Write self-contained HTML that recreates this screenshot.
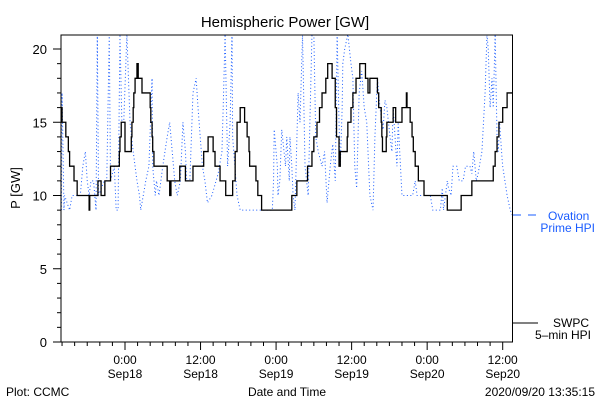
<!DOCTYPE html>
<html><head><meta charset="utf-8"><style>
html,body{margin:0;padding:0;background:#fff;width:600px;height:400px;overflow:hidden}
svg{display:block;font-family:"Liberation Sans","DejaVu Sans",sans-serif}
</style></head><body>
<svg id="chart" width="600" height="400" viewBox="0 0 600 400">
<rect width="600" height="400" fill="#fff"/>
<defs><clipPath id="pc"><rect x="61" y="35" width="451.5" height="307"/></clipPath></defs>
<text x="285" y="27" font-size="15" text-anchor="middle" fill="#000">Hemispheric Power [GW]</text>
<text x="20" y="188" font-size="13" text-anchor="middle" transform="rotate(-90 20 188)" fill="#000">P [GW]</text>
<g id="yaxis"></g>
<g id="xaxis"></g>
<g clip-path="url(#pc)">
<path id="blue" fill="none" stroke="#1a5cff" stroke-width="1" stroke-dasharray="1 2.5"/>
<path id="black" fill="none" stroke="#000" stroke-width="1.3"/>
</g>
<rect x="61" y="35" width="451.5" height="307" fill="none" stroke="#000" stroke-width="1"/>
<g>
<line x1="513" y1="215" x2="540" y2="215" stroke="#1a5cff" stroke-width="1" stroke-dasharray="8 7"/>
<text x="548" y="220" font-size="12" fill="#1a5cff">Ovation</text>
<text x="595" y="232" font-size="12" fill="#1a5cff" text-anchor="end">Prime HPI</text>
</g>
<g>
<line x1="513" y1="323" x2="538" y2="323" stroke="#000" stroke-width="1"/>
<text x="589" y="327" font-size="12" text-anchor="end" fill="#000">SWPC</text>
<text x="591" y="339" font-size="12" text-anchor="end" fill="#000">5–min HPI</text>
</g>
<text x="287" y="396" font-size="12" text-anchor="middle" fill="#000">Date and Time</text>
<text x="6" y="396" font-size="12" fill="#000">Plot: CCMC</text>
<text x="595" y="396" font-size="12" text-anchor="end" fill="#000">2020/09/20 13:35:15</text>
</svg>
<script>
// hours relative to 2020-09-18 00:00 UT
const swpcTimes=[-10.1,-10.0,-9.4,-9.0,-8.8,-8.1,-7.6,-5.7,-5.6,-4.3,-3.8,-3.2,-2.3,-0.9,-0.8,-0.6,0.0,1.0,1.1,1.3,1.4,1.6,1.9,2.1,2.7,4.0,4.1,4.3,4.4,4.6,6.7,7.1,7.3,8.7,9.6,10.8,12.5,13.2,14.0,14.3,15.1,16.0,17.1,17.5,17.8,18.3,19.0,19.4,19.7,19.8,20.8,21.1,21.7,26.5,27.3,29.0,29.7,30.0,30.5,30.9,31.3,31.9,32.2,32.9,33.4,33.6,34.0,34.2,35.3,35.4,35.9,36.2,36.7,37.3,38.2,38.6,38.9,40.1,40.3,40.7,40.8,40.9,41.5,41.6,42.6,43.0,44.0,44.7,44.8,45.3,45.6,45.8,46.1,46.6,47.5,51.2,53.4,55.1,58.5,58.8,59.1,59.4,60.0,60.7];
const swpcValues=[16,15,14,13,12,11,10,9,10,11,10,11,12,13,14,15,13,14,15,16,17,18,19,18,17,16,15,14,13,12,11,10,11,12,11,12,13,14,13,12,11,10,11,13,15,16,15,14,13,12,11,10,9,10,11,12,13,14,15,16,17,18,19,18,16,14,12,13,14,15,16,17,18,19,18,17,18,17,16,15,14,13,14,15,16,15,16,17,16,15,14,13,12,11,10,9,10,11,12,13,14,15,16,17];
const swpcEnd=61.6;
const ovationTimes=[-10.1,-10.0,-9.8,-9.7,-9.6,-9.2,-8.8,-8.4,-7.1,-6.7,-6.3,-6.0,-5.7,-5.4,-5.0,-4.6,-4.4,-4.2,-3.3,-2.9,-2.5,-2.3,-1.7,-1.4,-1.1,-0.8,-0.5,-0.2,0.3,0.8,1.3,1.6,1.9,2.3,2.5,2.9,3.3,3.8,4.3,4.4,4.8,5.0,5.4,5.7,6.0,6.7,7.1,7.5,7.9,8.3,8.8,9.2,9.6,9.8,10.3,10.8,11.3,11.6,12.3,12.7,13.1,13.8,14.8,15.4,15.6,15.9,16.3,16.7,17.0,17.1,17.8,18.3,23.4,23.6,23.7,24.2,24.3,24.6,24.9,25.5,25.7,26.1,26.2,26.5,26.7,27.0,27.5,27.8,28.2,28.6,29.1,29.7,30.0,30.3,30.7,31.3,31.7,32.1,32.6,33.0,33.4,33.7,34.0,34.2,34.5,34.6,34.9,35.4,35.9,36.2,36.5,36.8,37.2,37.6,38.0,38.4,38.9,39.4,39.7,40.1,40.5,41.0,41.3,41.6,42.1,42.4,42.6,43.2,43.4,43.7,44.0,45.7,46.1,46.4,48.5,48.9,50.1,50.4,50.6,51.2,51.4,51.8,52.1,52.7,53.1,53.7,54.1,54.8,55.1,55.4,55.8,56.1,56.7,56.9,57.2,57.5,57.7,58.0,58.3,58.5,58.8,59.1,59.3,59.5,59.9,60.0,60.7,61.2,61.6];
const ovationValues=[9,17,12,9,10,9.5,9,10,10,12,13,11,10,11,11,9,21,10,11,11,21,11,12,9,9,21,15,15,21,15,13,12,11,10,9,10,11,12,18,12,10,11,10,11,12,14,15,13,11,10,11,15,13,11,11,17,18,16,12,11,9.5,10,11.5,13,16,21,12,15,21,14,10,9,9,11,14.5,12,10,11,14.5,12,14,11,14,12,10,9,17,15,21,12,10,21,21,14,13,12,13,9.5,12,13.5,11,21,15,12,16,19,20,21,19,18,12,10.5,17,18.5,16,15,10,9,14,18,16,14.5,16.5,16,14,13,16,12,15,12.5,10,10,11,10,10,9,9,10.5,9,11,10.5,10,12,12,11,11,12,12,11.5,13,11,11.5,13,14.6,17,21,20,16,18,16,21,14,13,15,12.5,12,10,9,8.6];
const yTickValues=[0,5,10,15,20];
const xTickHours=[0,12,24,36,48,60];
const xTickTimes=["0:00","12:00","0:00","12:00","0:00","12:00"];
const xTickDates=["Sep18","Sep18","Sep19","Sep19","Sep20","Sep20"];

const NS="http://www.w3.org/2000/svg";
const X0=125, PXH=6.295, Y0=342, PXV=14.65;
function xs(h){return X0+h*PXH;}
function ys(v){return Y0-v*PXV;}

let d="M"+xs(swpcTimes[0])+","+ys(swpcValues[0]);
for(let i=1;i<swpcTimes.length;i++){d+=" H"+xs(swpcTimes[i])+" V"+ys(swpcValues[i]);}
d+=" H"+xs(swpcEnd);
document.getElementById("black").setAttribute("d",d);
let b="";
for(let i=0;i<ovationTimes.length;i++){b+=(i?" L":"M")+xs(ovationTimes[i])+","+ys(ovationValues[i]);}
document.getElementById("blue").setAttribute("d",b);

const ya=document.getElementById("yaxis");
for(let v=0;v<=20;v++){
  const major=v%5===0;
  const t=document.createElementNS(NS,"line");
  
  
  t.setAttribute("x1",61);t.setAttribute("x2",61-(major?8:4));
  t.setAttribute("y1",ys(v));t.setAttribute("y2",ys(v));t.setAttribute("stroke","#000");
  ya.appendChild(t);
}
yTickValues.forEach(v=>{
  const t=document.createElementNS(NS,"text");
  
  
  t.setAttribute("x",47);t.setAttribute("y",ys(v)+5);t.setAttribute("font-size","13");
  t.setAttribute("text-anchor","end");t.textContent=v;ya.appendChild(t);
});
const xa=document.getElementById("xaxis");
for(let h=-10;h<=61;h+=2){
  const major=h%12===0;
  const t=document.createElementNS(NS,"line");
  
  
  t.setAttribute("x1",xs(h));t.setAttribute("x2",xs(h));
  t.setAttribute("y1",342);t.setAttribute("y2",342+(major?8:4));t.setAttribute("stroke","#000");
  xa.appendChild(t);
}
xTickHours.forEach((h,i)=>{
  const t=document.createElementNS(NS,"text");
  
  
  t.setAttribute("x",xs(h));t.setAttribute("y",364);t.setAttribute("font-size","12");
  t.setAttribute("text-anchor","middle");t.textContent=xTickTimes[i];xa.appendChild(t);
  const t2=document.createElementNS(NS,"text");
  
  
  t2.setAttribute("x",xs(h));t2.setAttribute("y",378);t2.setAttribute("font-size","12");
  t2.setAttribute("text-anchor","middle");t2.textContent=xTickDates[i];xa.appendChild(t2);
});
</script>
</body></html>
